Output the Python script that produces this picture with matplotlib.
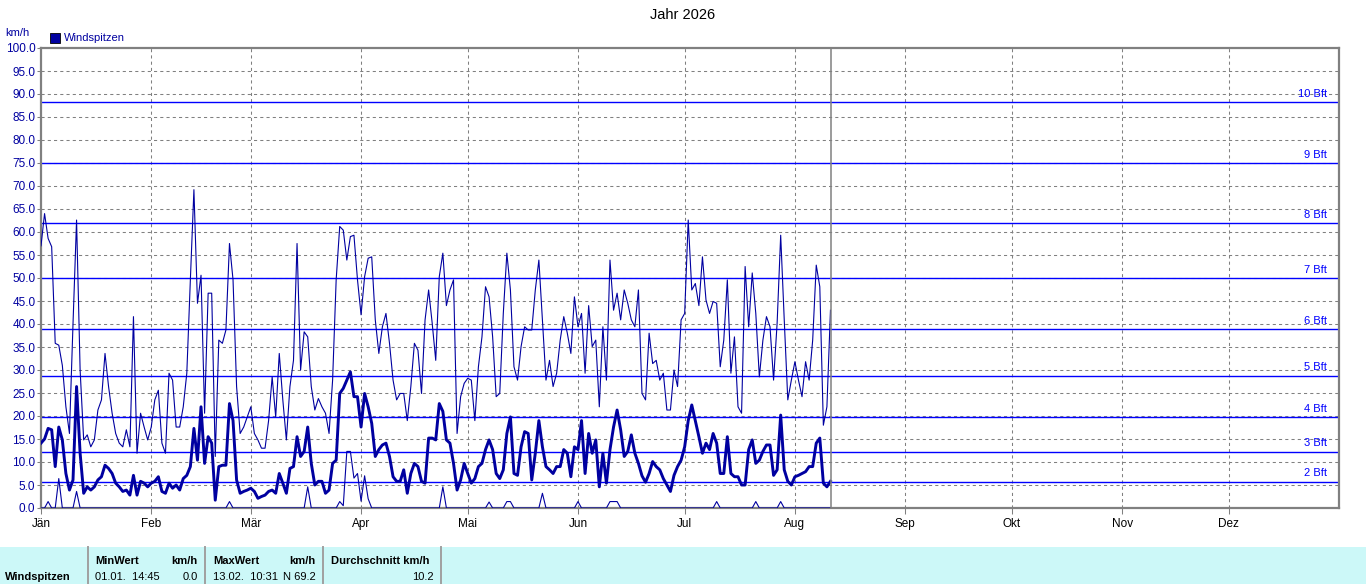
import matplotlib
matplotlib.use("Agg")
import matplotlib.pyplot as plt
import numpy as np
from matplotlib.patches import Rectangle
from matplotlib.lines import Line2D

plt.rcParams['font.family'] = ['Liberation Sans', 'DejaVu Sans']

# Tageswerte ab 01.01. (Tag 0) bis ca. 10.08.
spitze_max = [
    57, 64, 58.6, 56.8, 35.8, 35.4, 31, 22, 16.2, 40,
    62.6, 30, 14.8, 15.9, 13.3, 14.8, 21.3, 23.5, 33.6, 26.4,
    20.6, 16.2, 14.1, 13.3, 17, 13.3, 41.6, 11.9, 20.6, 17.6,
    14.8, 17.6, 23.5, 25.6, 14.1, 11.9, 29.3, 27.8, 17.6, 17.6,
    22, 29.3, 49.6, 69.2, 44.5, 50.6, 20.6, 46.7, 46.7, 11.2,
    36.5, 35.8, 38.7, 57.5, 49.6, 26.4, 16.2, 17.6, 19.8, 22,
    16.2, 14.8, 13, 13, 19, 28.5, 19.8, 33.6, 23.5, 14.8,
    26.4, 32.1, 57.5, 30, 38.3, 37.2, 26.4, 21.3, 23.8, 22,
    20.6, 16.2, 27.8, 49.6, 61.2, 60.4, 53.9, 59, 59.3, 49.6,
    42, 50.3, 54.3, 54.6, 40.9, 33.6, 39.4, 42.3, 35.8, 27.8,
    23.5, 24.9, 24.9, 19, 26.4, 35.8, 34.3, 24.9, 40.9, 47.4,
    40.2, 32.1, 50.3, 55.4, 44, 47.4, 49.6, 16.2, 24.2, 27.1,
    28.2, 27.8, 19, 30.7, 37.2, 48.1, 45.9, 37.2, 24.2, 24.9,
    42.3, 55.4, 47.4, 30.7, 27.8, 35.1, 39.4, 38.7, 38.7, 47.4,
    53.9, 40.9, 27.8, 32.1, 26.4, 29.3, 36.5, 41.6, 38, 33.6,
    45.9, 39.4, 42.3, 29.3, 44, 35.1, 36.5, 22, 39.4, 27.8,
    53.9, 43, 46.7, 40.9, 47.4, 44.5, 40.9, 39.4, 47.4, 24.9,
    23.5, 38, 31.4, 32.1, 27.8, 29.3, 21.3, 21.3, 30, 26.4,
    40.9, 42.3, 62.6, 47.4, 48.8, 44, 54.6, 45.2, 42.3, 44.9,
    44.5, 30.7, 36.5, 49.6, 29.3, 37.2, 22, 20.6, 52.5, 39.4,
    51.1, 42.3, 28.5, 36.5, 41.6, 39.4, 27.8, 40.2, 59.3, 40.9,
    23.5, 27.8, 31.8, 27.8, 24.2, 31.8, 27.8, 36.5, 52.8, 48.1,
    18, 22, 43,
]

spitze_mittel = [
    14.1, 15, 17.3, 17, 9, 17.6, 14.8, 7.5, 3.9, 6.1,
    26.4, 11.9, 3.2, 4.6, 3.9, 4.6, 6.1, 6.8, 9.3, 8.6,
    7.5, 5.4, 4.6, 3.6, 3.9, 2.8, 7.1, 2.8, 5.8, 5.4,
    4.6, 5.4, 5.8, 6.8, 3.6, 3.2, 5.4, 4.3, 5, 3.9,
    6.4, 7.1, 9, 17.3, 10.4, 22, 9.7, 15.5, 14.1, 1.7,
    9, 9.3, 9.3, 22.7, 19, 6.1, 3.2, 3.6, 3.9, 4.3,
    3.6, 2.1, 2.5, 2.8, 3.6, 3.9, 3.2, 7.5, 5.4, 3.2,
    8.6, 9, 15.5, 11.2, 12.3, 17.6, 9.7, 5, 5.8, 5.8,
    3.2, 3.9, 9.7, 10.4, 24.9, 26, 27.8, 29.6, 24.2, 24.2,
    17.6, 24.9, 22, 18.4, 11.2, 12.7, 13.7, 14.1, 11.2, 6.8,
    5.8, 5.8, 8.3, 3.2, 7.5, 9.7, 9, 5.8, 5.4, 15.2,
    15.2, 14.8, 22.7, 21, 14.8, 14.1, 9.7, 3.9, 6.1, 9.7,
    7.5, 5.4, 6.4, 9, 9.7, 12.7, 14.8, 12.7, 7.5, 6.4,
    8.3, 16.2, 19.8, 7.5, 7.1, 13.3, 16.6, 16.2, 6.1, 11.9,
    19, 13.3, 9, 8.3, 7.5, 9, 9, 12.7, 11.9, 6.8,
    13.3, 12.7, 19, 7.5, 16.2, 11.9, 14.8, 4.6, 11.9, 5.4,
    12.7, 17.6, 21.3, 17, 11.2, 12.3, 15.9, 11.9, 9.7, 7,
    5.6, 7.5, 10.1, 9, 8.3, 6.4, 5, 3.6, 7.1, 9,
    10.4, 13.3, 19, 22.4, 19, 15.5, 11.9, 14.1, 12.7, 16.2,
    14.1, 7.5, 7.5, 15.5, 7.5, 6.8, 6.8, 5, 5, 12.7,
    14.8, 9.7, 10.4, 12.3, 13.7, 13.7, 7.1, 8.3, 20.2, 8.3,
    5.8, 5, 6.8, 7.1, 7.5, 7.9, 9, 9, 14.1, 15.2,
    5.4, 4.6, 5.8,
]

# Minimum: meist 0, nur einzelne Tage darueber
min_tage = [2, 5, 10, 53, 75, 84, 85, 86, 87, 88, 89, 90, 91, 92,
            113, 126, 131, 132, 141, 151, 160, 161, 162, 190, 201, 208]
min_werte = [1.4, 6.4, 3.6, 1.4, 4.6, 1.4, 0.5, 12.3, 12.3, 6.5, 7.5, 1.5, 7, 2,
             4.6, 1.3, 1.4, 1.4, 3.2, 1.4, 1.4, 1.4, 1.4, 1.4, 1.4, 1.4]

monate = ['Jän', 'Feb', 'Mär', 'Apr', 'Mai', 'Jun', 'Jul', 'Aug', 'Sep', 'Okt', 'Nov', 'Dez']
monat_start = [0, 31, 59, 90, 120, 151, 181, 212, 243, 273, 304, 334]

bft_werte = [5.76, 12.24, 19.8, 28.8, 38.9, 50.0, 61.9, 74.9, 88.2]
bft_namen = ['2 Bft', '3 Bft', '4 Bft', '5 Bft', '6 Bft', '7 Bft', '8 Bft', '9 Bft', '10 Bft']

heute = 222.1

tage = np.arange(len(spitze_max))
spitze_min = np.zeros(len(tage))
spitze_min[min_tage] = min_werte

W, H = 1366, 584
fig = plt.figure(figsize=(W / 100, H / 100), dpi=100)
ax = fig.add_axes([41 / W, 76 / H, 1298 / W, 460 / H])

navy = '#0000a0'
grau = '#808080'

# Raster
for m in monat_start[1:]:
    ax.axvline(m, color=grau, lw=0.75, ls=(0, (3, 3)), zorder=1)
for v in np.arange(5, 100, 5):
    ax.axhline(v, color=grau, lw=0.75, ls=(0, (3, 3)), zorder=1)

# Beaufort-Linien
for v, n in zip(bft_werte, bft_namen):
    ax.axhline(v, color='#0000ff', lw=1.0, zorder=2)
    ax.text(361.6, v + 0.7, n, color='#0000ff', fontsize=8, ha='right', va='bottom', zorder=3)

ax.plot(tage, spitze_max, color=navy, lw=0.8, zorder=4)
ax.plot(tage, spitze_min, color=navy, lw=0.8, zorder=4)
ax.plot(tage, spitze_mittel, color=navy, lw=2.1, zorder=5)

ax.axvline(heute, color=grau, lw=1.1, zorder=6)

ax.set_xlim(0, 365)
ax.set_ylim(0, 100)
ax.set_xticks(monat_start)
ax.set_xticklabels(monate, fontsize=8.5)
ax.set_yticks(np.arange(0, 100.1, 5))
ax.set_yticklabels(['%.1f' % v for v in np.arange(0, 100.1, 5)], fontsize=8.5, color=navy)
ax.tick_params(axis='x', length=4, color=grau, width=0.75, pad=3)
ax.tick_params(axis='y', length=3, color=grau, width=0.75, pad=1)
for s in ax.spines.values():
    s.set_color(grau)
    s.set_linewidth(1.6)

# Titel, Einheit, Legende
fig.text(683 / W, 1 - 15 / H, 'Jahr 2026', ha='center', va='center', fontsize=10.5)
fig.text(5 / W, 1 - 33 / H, 'km/h', ha='left', va='center', fontsize=8, color=navy)
fig.patches.append(Rectangle((50 / W, 1 - 43 / H), 10 / W, 10 / H, transform=fig.transFigure,
                             facecolor=navy, edgecolor='black', lw=0.6))
fig.text(64 / W, 1 - 38 / H, 'Windspitzen', ha='left', va='center', fontsize=8, color=navy)

# Tabelle unten
fig.patches.append(Rectangle((0, 0), 1, (H - 547) / H, transform=fig.transFigure,
                             facecolor='#ccf8f8', edgecolor='none', zorder=0))
for xs in [88, 205, 323, 441]:
    fig.add_artist(Line2D([xs / W, xs / W], [0, (H - 547) / H], color='#a0a0a0', lw=1.4))

def t(x, y, s, ha='left', bold=False):
    fig.text(x / W, 1 - y / H, s, ha=ha, va='center', fontsize=8,
             fontweight='bold' if bold else 'normal')

t(5, 577, 'Windspitzen', bold=True)
t(95, 561, 'MinWert', bold=True)
t(198, 561, 'km/h', ha='right', bold=True)
t(95, 577, '01.01.  14:45')
t(198, 577, '0.0', ha='right')
t(213, 561, 'MaxWert', bold=True)
t(316, 561, 'km/h', ha='right', bold=True)
t(213, 577, '13.02.  10:31')
t(316, 577, 'N 69.2', ha='right')
t(331, 561, 'Durchschnitt km/h', bold=True)
t(434, 577, '10.2', ha='right')

fig.savefig('out.png', dpi=100)
